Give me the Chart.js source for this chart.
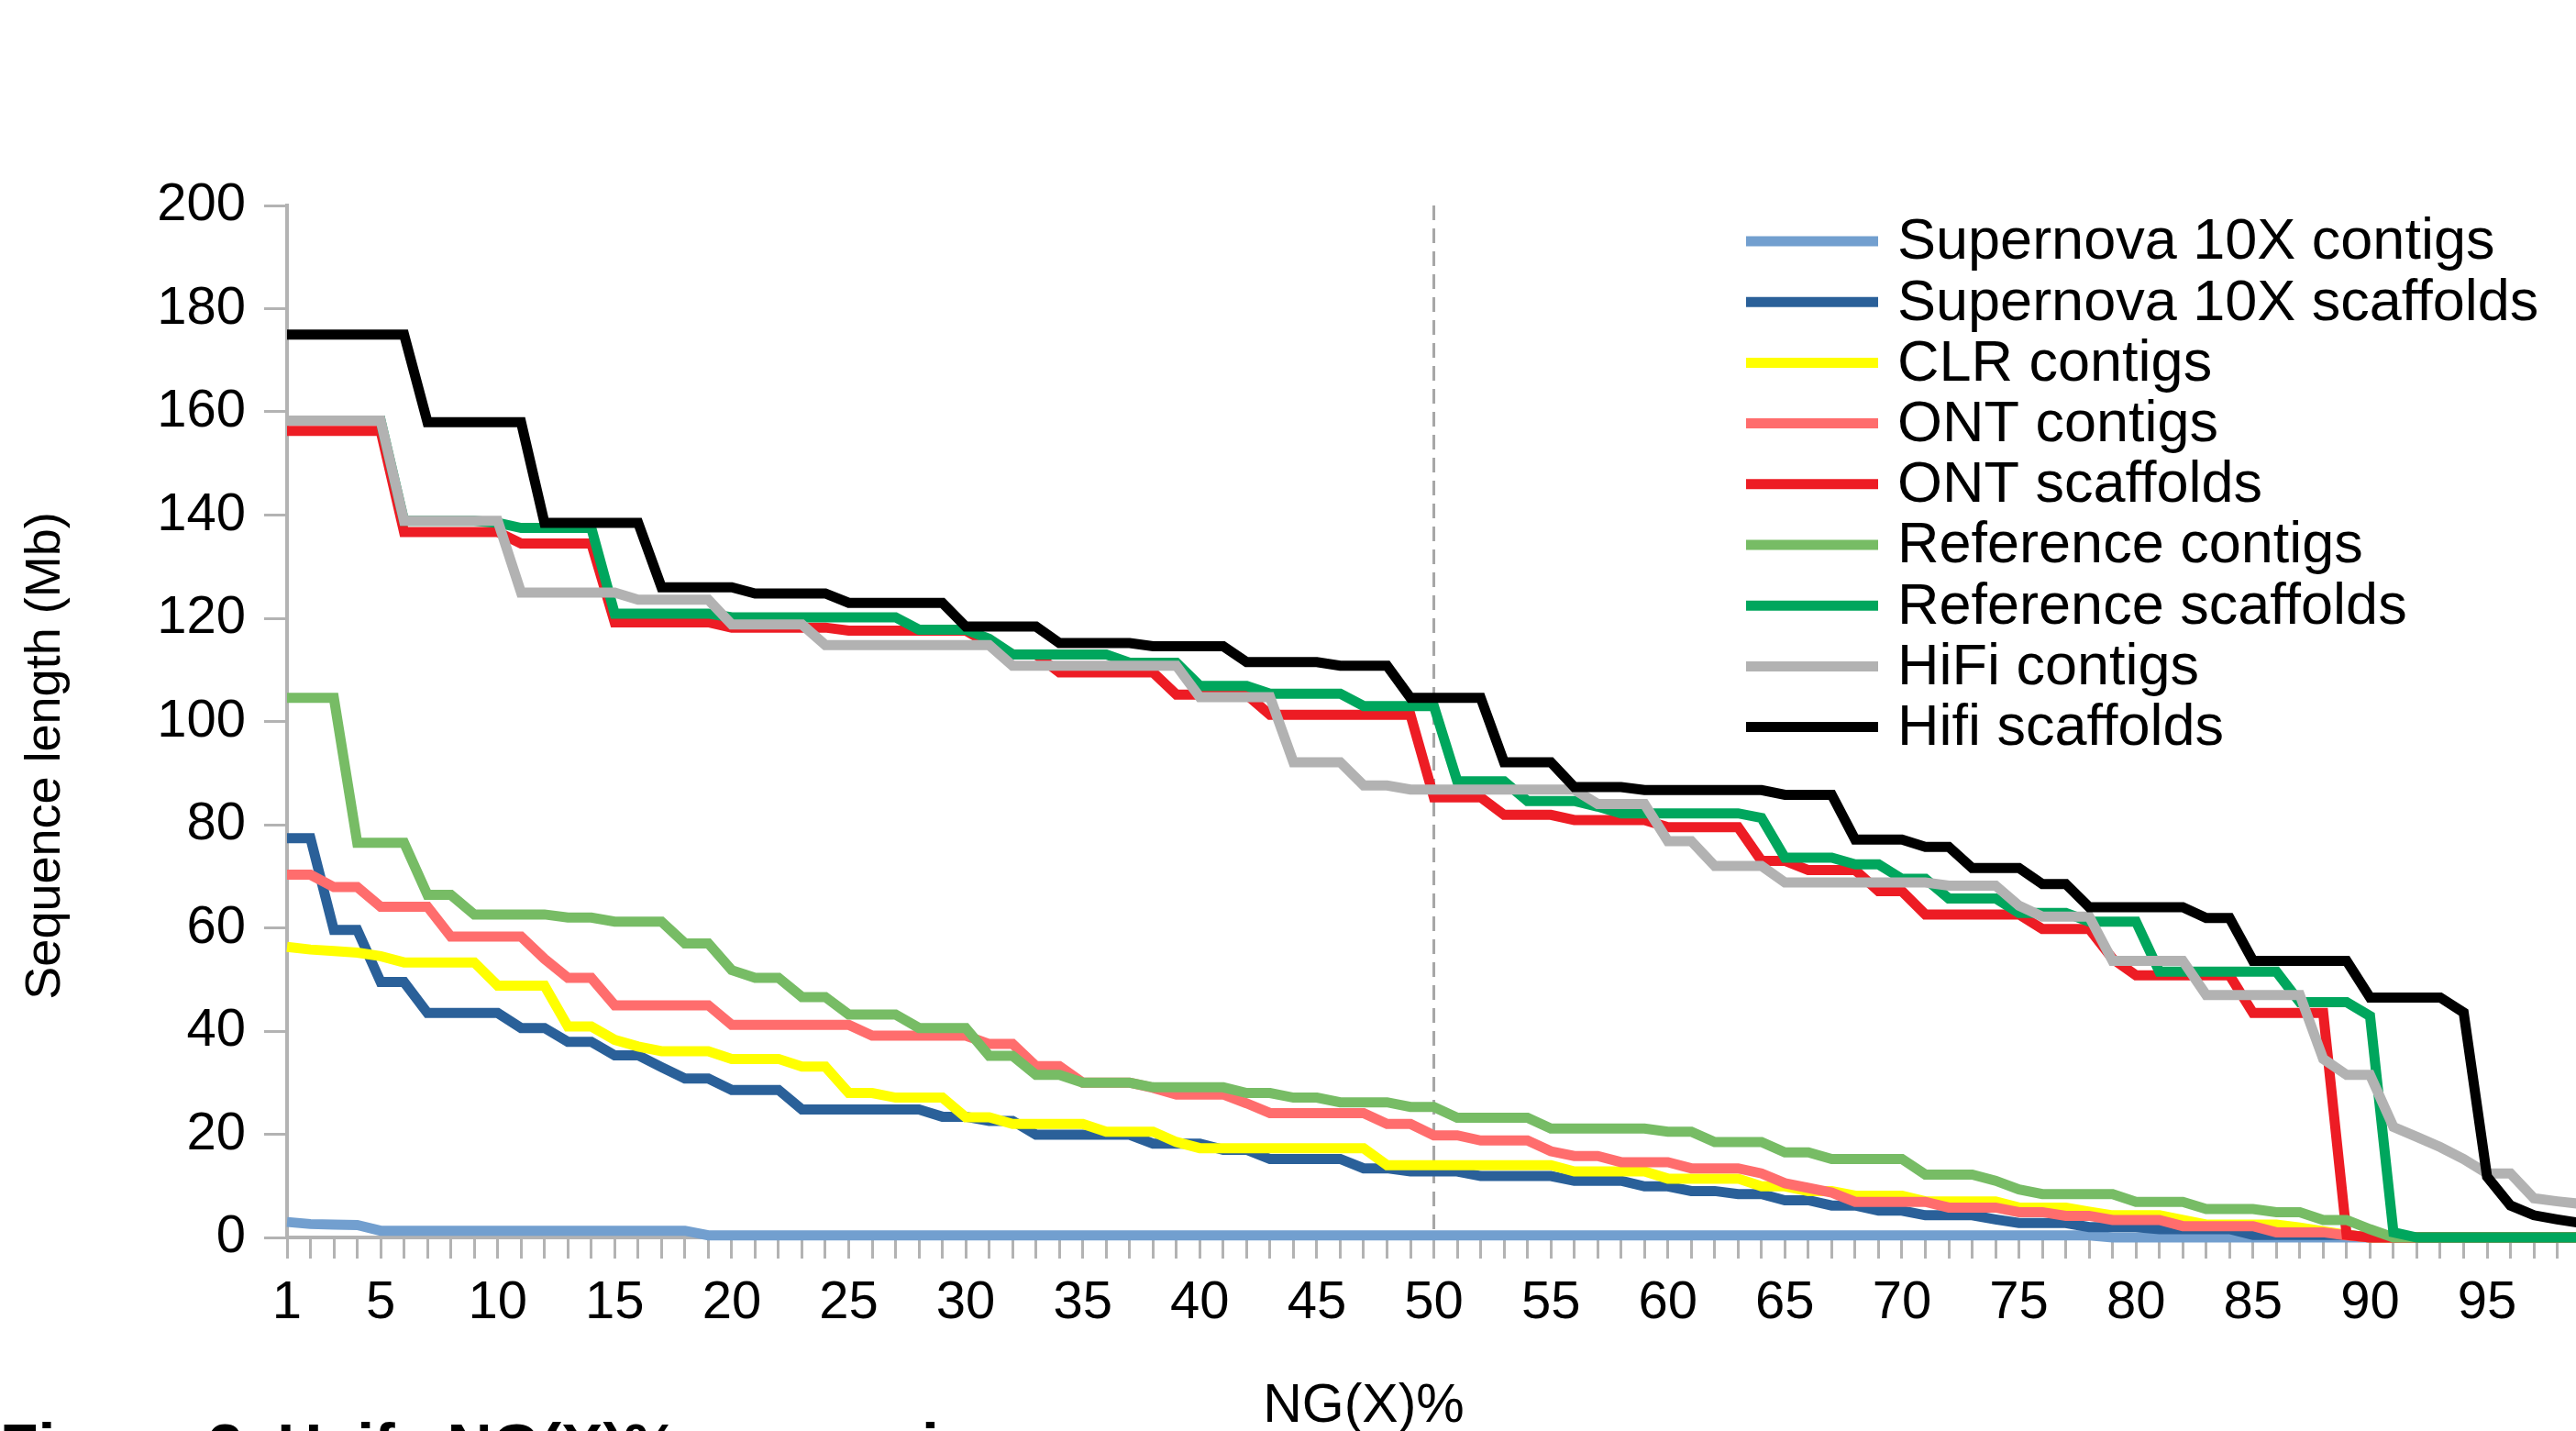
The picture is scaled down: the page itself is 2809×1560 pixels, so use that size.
<!DOCTYPE html>
<html>
<head>
<meta charset="utf-8">
<script src="https://cdn.jsdelivr.net/npm/chart.js@4.4.1/dist/chart.umd.min.js"></script>
<style>
  html, body { margin: 0; padding: 0; background: #fff; }
  canvas { display: block; }
</style>
</head>
<body>
<canvas id="ngChart" width="2809" height="1560"></canvas>
<script>
// NG(X)% positions
const ngX = [];
for (let i = 1; i <= 99; i++) ngX.push(i);

// sequence lengths (Mb)
const snCont = [3, 2.6, 2.5, 2.4, 1.3, 1.3, 1.3, 1.3, 1.3, 1.3, 1.3, 1.3, 1.3, 1.3, 1.3, 1.3, 1.3, 1.3,
  0.4, 0.4, 0.4, 0.4, 0.4, 0.4, 0.4, 0.4, 0.4, 0.4, 0.4, 0.4, 0.4, 0.4, 0.4, 0.4, 0.4, 0.4, 0.4, 0.4,
  0.4, 0.4, 0.4, 0.4, 0.4, 0.4, 0.4, 0.4, 0.4, 0.4, 0.4, 0.4, 0.4, 0.4, 0.4, 0.4, 0.4, 0.4, 0.4, 0.4,
  0.4, 0.4, 0.4, 0.4, 0.4, 0.4, 0.4, 0.4, 0.4, 0.4, 0.4, 0.4, 0.4, 0.4, 0.4, 0.4, 0.4, 0.4, 0.4, 0.4,
  0, 0, 0, 0, 0, 0, 0, 0, 0, 0, 0, 0, 0, 0, 0, 0, 0, 0, 0, 0, 0];
const snScaf = [77.4, 77.4, 59.6, 59.6, 49.5, 49.5, 43.5, 43.5, 43.5, 43.5, 40.6, 40.6, 37.9, 37.9,
  35.3, 35.3, 33, 30.8, 30.8, 28.6, 28.6, 28.6, 24.8, 24.8, 24.8, 24.8, 24.8, 24.8, 23.4, 23.4,
  22.6, 22.6, 19.9, 19.9, 19.9, 19.9, 19.9, 18.2, 18.2, 18.2, 17, 17, 15.2, 15.2, 15.2, 15.2,
  13.4, 13.4, 12.8, 12.8, 12.8, 11.9, 11.9, 11.9, 11.9, 11, 11, 11, 9.9, 9.9, 9, 9, 8.4, 8.4,
  7.2, 7.2, 6.2, 6.2, 5.2, 5.2, 4.3, 4.3, 4.3, 3.5, 2.8, 2.8, 2.8, 2, 2, 2, 1.6, 1.6, 1.6, 1.6,
  0.5, 0.5, 0.5, 0.5, 0.5, 0, 0, 0, 0, 0, 0, 0, 0, 0, 0];
const clrCont = [56.3, 55.8, 55.5, 55.2, 54.5, 53.3, 53.3, 53.3, 53.3, 48.8, 48.8, 48.8, 40.9, 40.9,
  38.3, 37, 36.1, 36.1, 36.1, 34.6, 34.6, 34.6, 33.1, 33.1, 28, 28, 27.1, 27.1, 27.1, 23.3, 23.3,
  22, 22, 22, 22, 20.5, 20.5, 20.5, 18.5, 17.3, 17.3, 17.3, 17.3, 17.3, 17.3, 17.3, 17.3,
  14, 14, 14, 14, 14, 14, 14, 14, 12.8, 12.8, 12.8, 12.8, 11.4, 11.4, 11.4, 11.4, 9.9, 9.9,
  9, 9, 8.1, 8.1, 8.1, 7, 7, 7, 7, 5.8, 5.8, 5.8, 5, 4.3, 4.3, 4.3, 3.4, 2.5, 2.5, 2.5, 2.5,
  1.9, 1.2, 0.5, 0, 0, 0, 0, 0, 0, 0, 0, 0, 0];
const ontCont = [70.3, 70.3, 67.9, 67.9, 64.1, 64.1, 64.1, 58.3, 58.3, 58.3, 58.3, 54, 50.3, 50.3,
  45, 45, 45, 45, 45, 41.2, 41.2, 41.2, 41.2, 41.2, 41.2, 39.1, 39.1, 39.1, 39.1, 39.1, 37.5, 37.5,
  33.2, 33.2, 30, 30, 30, 29, 27.7, 27.7, 27.7, 26, 24.1, 24.1, 24.1, 24.1, 24.1, 22, 22, 19.8, 19.8,
  18.8, 18.8, 18.8, 16.7, 15.8, 15.8, 14.6, 14.6, 14.6, 13.4, 13.4, 13.4, 12.4, 10.5, 9.6, 8.7,
  6.9, 6.9, 6.9, 6.9, 5.8, 5.8, 5.8, 4.9, 4.9, 4.2, 4.2, 3.4, 3.4, 3.4, 2.2, 2.2, 2.2, 2.2,
  1, 1, 1, 0.4, 0, 0, 0, 0, 0, 0, 0, 0, 0, 0];
const ontScaf = [156.3, 156.3, 156.3, 156.3, 156.3, 136.7, 136.7, 136.7, 136.7, 136.7, 134.5, 134.5, 134.5, 134.5,
  119.2, 119.2, 119.2, 119.2, 119.2, 118.2, 118.2, 118.2, 118.2, 118.2, 117.6, 117.6, 117.6, 117.6, 117.6, 117.6,
  115, 113, 113, 109.5, 109.5, 109.5, 109.5, 109.5, 105.2, 105.2, 105.2, 105.2,
  101.3, 101.3, 101.3, 101.3, 101.3, 101.3, 101.3, 85.3, 85.3, 85.3, 81.9, 81.9, 81.9,
  80.9, 80.9, 80.9, 80.9, 79.5, 79.5, 79.5, 79.5, 73, 73, 71.2, 71.2, 71.2, 67.1, 67.1,
  62.6, 62.6, 62.6, 62.6, 62.6, 59.8, 59.8, 59.8, 54, 50.8, 50.8, 50.8, 50.8, 50.8,
  43.5, 43.5, 43.5, 43.5, 0.5, 0, 0, 0, 0, 0, 0, 0, 0, 0, 0];
const refCont = [104.6, 104.6, 104.6, 76.5, 76.5, 76.5, 66.4, 66.4, 62.6, 62.6, 62.6, 62.6, 62, 62,
  61.2, 61.2, 61.2, 57, 57, 51.8, 50.3, 50.3, 46.6, 46.6, 43.2, 43.2, 43.2, 40.6, 40.6, 40.6,
  35.2, 35.2, 31.5, 31.5, 30, 30, 30, 29.1, 29.1, 29.1, 29.1, 28, 28, 27.1, 27.1, 26.2, 26.2, 26.2,
  25.3, 25.3, 23.2, 23.2, 23.2, 23.2, 21.1, 21.1, 21.1, 21.1, 21.1, 20.5, 20.5, 18.5, 18.5, 18.5,
  16.5, 16.5, 15.2, 15.2, 15.2, 15.2, 12.2, 12.2, 12.2, 11, 9.3, 8.4, 8.4, 8.4, 8.4, 6.9, 6.9, 6.9,
  5.5, 5.5, 5.5, 4.9, 4.9, 3.4, 3.4, 1.6, 0, 0, 0, 0, 0, 0, 0, 0, 0];
const refScaf = [158.3, 158.3, 158.3, 158.3, 158.3, 138.9, 138.9, 138.9, 138.9, 138.5, 137.5, 137.5, 137.5, 137.5,
  120.9, 120.9, 120.9, 120.9, 120.9, 120.2, 120.2, 120.2, 120.2, 120.2, 120.2, 120.2, 120.2,
  117.8, 117.8, 117.8, 116, 113, 113, 113, 113, 113, 111.4, 111.4, 111.4, 106.9, 106.9, 106.9,
  105.4, 105.4, 105.4, 105.4, 103, 103, 103, 103, 88.4, 88.4, 88.4, 84.6, 84.6, 84.6, 83.5,
  82.2, 82.2, 82.2, 82.2, 82.2, 82.2, 81.3, 73.6, 73.6, 73.6, 72.3, 72.3, 69.5, 69.5,
  65.7, 65.7, 65.7, 62.9, 62.9, 62.9, 61.2, 61.2, 61.2, 51.5, 51.5, 51.5, 51.5, 51.5, 51.5,
  45.6, 45.6, 45.6, 42.9, 1, 0, 0, 0, 0, 0, 0, 0, 0];
const hifiCont = [158.3, 158.3, 158.3, 158.3, 158.3, 138.9, 138.9, 138.9, 138.9, 138.9, 125, 125, 125, 125, 125,
  123.6, 123.6, 123.6, 123.6, 118.8, 118.8, 118.8, 118.8, 114.8, 114.8, 114.8, 114.8, 114.8, 114.8, 114.8, 114.8,
  110.8, 110.8, 110.8, 110.8, 110.8, 110.8, 110.8, 110.8, 104.7, 104.7, 104.7, 104.7, 92.1, 92.1, 92.1,
  87.6, 87.6, 86.8, 86.8, 86.8, 86.8, 86.8, 86.8, 86.8, 86.8, 84, 84, 84, 76.8, 76.8, 72, 72, 72,
  68.8, 68.8, 68.8, 68.8, 68.8, 68.8, 68.8, 68.2, 68.2, 68.2, 64.3, 62.2, 62.2, 62.2,
  53.6, 53.6, 53.6, 53.6, 47, 47, 47, 47, 47, 34.6, 31.5, 31.5, 21.4, 19.5, 17.5, 15.2, 12.4, 12.4,
  7.6, 7, 6.5];
const hifiScaf = [175, 175, 175, 175, 175, 175, 158, 158, 158, 158, 158, 138.5, 138.5, 138.5, 138.5, 138.5,
  126, 126, 126, 126, 124.8, 124.8, 124.8, 124.8, 123, 123, 123, 123, 123, 118.4, 118.4, 118.4, 118.4,
  115.2, 115.2, 115.2, 115.2, 114.6, 114.6, 114.6, 114.6, 111.5, 111.5, 111.5, 111.5, 110.8, 110.8, 110.8,
  104.6, 104.6, 104.6, 104.6, 92.1, 92.1, 92.1, 87.3, 87.3, 87.3, 86.7, 86.7, 86.7, 86.7, 86.7, 86.7,
  85.8, 85.8, 85.8, 77.1, 77.1, 77.1, 75.7, 75.7, 71.6, 71.6, 71.6, 68.5, 68.5, 64, 64, 64, 64, 64,
  61.9, 61.9, 53.6, 53.6, 53.6, 53.6, 53.6, 46.5, 46.5, 46.5, 46.5, 43.6, 11.8, 6.2, 4.3, 3.5, 2.8];

const seriesNames = ['Supernova 10X contigs', 'Supernova 10X scaffolds', 'CLR contigs', 'ONT contigs',
  'ONT scaffolds', 'Reference contigs', 'Reference scaffolds', 'HiFi contigs', 'Hifi scaffolds'];
const seriesData = [snCont, snScaf, clrCont, ontCont, ontScaf, refCont, refScaf, hifiCont, hifiScaf];
const seriesColors = ['#729fcf', '#2a6099', '#ffff00', '#ff6d6d', '#ed1c24', '#77bc65', '#00a65d', '#b2b2b2', '#000000'];

const xLabelTicks = [1, 5, 10, 15, 20, 25, 30, 35, 40, 45, 50, 55, 60, 65, 70, 75, 80, 85, 90, 95];
const yTicks = [0, 20, 40, 60, 80, 100, 120, 140, 160, 180, 200];

const FONT = "'Liberation Sans', Arial, sans-serif";
const AXIS_GREY = '#b3b3b3';

// dashed marker at NG50, legend, titles
const extras = {
  id: 'extras',
  beforeDatasetsDraw(chart) {
    const ctx = chart.ctx;
    const xs = chart.scales.x, ys = chart.scales.y;
    const px = xs.getPixelForValue(50);
    ctx.save();
    ctx.strokeStyle = '#a6a6a6';
    ctx.lineWidth = 3;
    ctx.setLineDash([16, 9]);
    ctx.beginPath();
    ctx.moveTo(px, ys.getPixelForValue(200));
    ctx.lineTo(px, ys.getPixelForValue(0));
    ctx.stroke();
    ctx.restore();
  },
  afterDraw(chart) {
    const ctx = chart.ctx;
    ctx.save();
    // legend
    ctx.font = '63px ' + FONT;
    ctx.textBaseline = 'middle';
    ctx.textAlign = 'left';
    seriesNames.forEach((name, i) => {
      const y = 263 + i * 66.2;
      ctx.strokeStyle = seriesColors[i];
      ctx.lineWidth = 11;
      ctx.beginPath();
      ctx.moveTo(1904, y);
      ctx.lineTo(2048, y);
      ctx.stroke();
      ctx.fillStyle = '#000';
      ctx.fillText(name, 2069, y + 2);
    });
    // axis titles
    ctx.fillStyle = '#000';
    ctx.font = '59px ' + FONT;
    ctx.textAlign = 'center';
    ctx.fillText('NG(X)%', 1487, 1534);
    ctx.save();
    ctx.translate(50, 824);
    ctx.rotate(-Math.PI / 2);
    ctx.font = '54px ' + FONT;
    ctx.fillText('Sequence length (Mb)', 0, 0);
    ctx.restore();
    // caption, cut by the bottom edge
    ctx.font = 'bold 68px ' + FONT;
    ctx.textAlign = 'left';
    ctx.textBaseline = 'alphabetic';
    ctx.fillText('Figure 3. Haifa NG(X)% comparison', 0, 1600);
    ctx.restore();
  }
};

const ctx = document.getElementById('ngChart').getContext('2d');
const chart = new Chart(ctx, {
  type: 'line',
  data: {
    datasets: seriesNames.map((name, i) => ({
      label: name,
      data: seriesData[i].map((v, k) => ({ x: ngX[k], y: v })),
      borderColor: seriesColors[i],
      backgroundColor: seriesColors[i],
      borderWidth: 11,
      pointRadius: 0,
      tension: 0,
      clip: false,
      order: seriesNames.length - i
    }))
  },
  options: {
    responsive: false,
    animation: false,
    devicePixelRatio: 1,
    layout: { padding: { top: 224, right: 0, bottom: 0, left: 0 } },
    plugins: {
      legend: { display: false },
      tooltip: { enabled: false }
    },
    scales: {
      x: {
        type: 'linear',
        min: 1,
        max: 98.8,
        afterFit: (s) => { s.height = 211; },
        afterBuildTicks: (s) => { s.ticks = ngX.filter(v => v <= 98).map(v => ({ value: v })); },
        ticks: {
          autoSkip: false,
          maxRotation: 0,
          padding: 14,
          color: '#000',
          font: { family: FONT, size: 58 },
          callback: (v) => xLabelTicks.includes(v) ? String(v) : ''
        },
        grid: {
          drawOnChartArea: false,
          drawTicks: true,
          tickLength: 23,
          tickColor: AXIS_GREY,
          tickWidth: 3
        },
        border: { display: true, color: AXIS_GREY, width: 4 }
      },
      y: {
        min: 0,
        max: 200,
        afterFit: (s) => { s.width = 313; },
        afterBuildTicks: (s) => { s.ticks = yTicks.map(v => ({ value: v })); },
        ticks: {
          padding: 20,
          color: '#000',
          font: { family: FONT, size: 58 }
        },
        grid: {
          drawOnChartArea: false,
          drawTicks: true,
          tickLength: 25,
          tickColor: AXIS_GREY,
          tickWidth: 3
        },
        border: { display: true, color: AXIS_GREY, width: 4 }
      }
    }
  },
  plugins: [extras]
});
</script>
</body>
</html>
